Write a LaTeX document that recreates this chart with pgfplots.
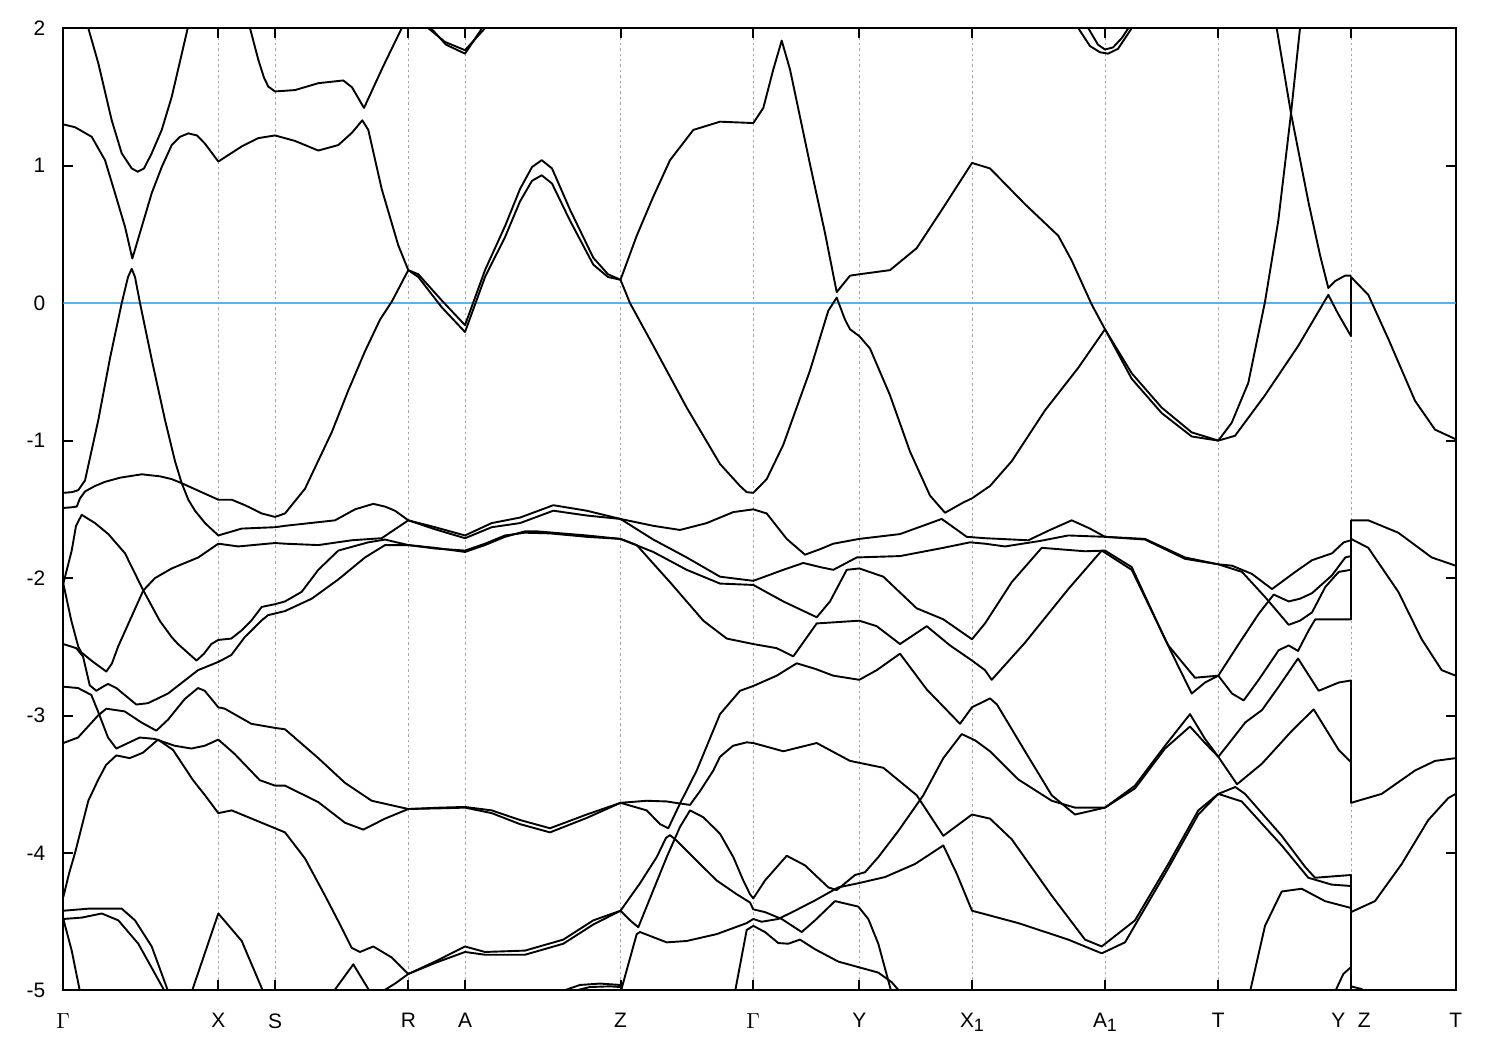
\documentclass[border=0pt]{standalone}
\usepackage{fontspec}
\setmainfont{Liberation Sans}
\usepackage{pgfplots}
\pgfplotsset{compat=1.18}
\definecolor{zeroblue}{RGB}{86,180,233}
\begin{document}
\begin{tikzpicture}
\begin{axis}[
  width=696bp, height=481bp, scale only axis,
  xmin=63.3, xmax=1455.7, ymin=-5, ymax=2,
  xtick={63.3,218.3,275,408.3,465,620.5,753.3,859.3,972,1105,1218.3,1351,1455.7},
  xticklabels={$\Gamma$,X,S,R,A,Z,$\Gamma$,Y,X\raisebox{-0.35ex}{\fontsize{9}{10}\selectfont 1},A\raisebox{-0.35ex}{\fontsize{9}{10}\selectfont 1},T,Y\hspace{6.3bp}Z,T},
  ytick={-5,-4,-3,-2,-1,0,1,2},
  yticklabels={-5,-4,-3,-2,-1,0,1,2},
  tick align=inside, major tick length=5bp,
  every tick/.style={black, line width=1bp},
  axis line style={line width=1bp},
  xmajorgrids,
  major grid style={gray!70, line width=0.5bp, dash pattern=on 1.2bp off 1.5bp},
  ticklabel style={font=\fontsize{10.5}{12}\selectfont},
  xticklabel style={yshift=-8bp},
  yticklabel style={xshift=-5.5bp},
  no markers,
  cycle list={{black,solid}},
  every axis plot post/.append style={line width=0.95bp, line join=round},
]
% Fermi level
\addplot[color=zeroblue] coordinates {(63.3,0) (1455.7,0)};

% bands above the Fermi level
\addplot coordinates {(88.3,2.0)(98.3,1.745)(111.7,1.33)(121.7,1.09)(131.7,0.98)(137.7,0.956)(144,0.98)(151.7,1.09)(161.7,1.26)(171.7,1.50)(187.7,2.0)};
\addplot coordinates {(63.3,1.30)(75,1.28)(91.7,1.21)(105,1.04)(115,0.80)(125,0.555)(132.3,0.325)(135,0.39)(151.7,0.80)(161.7,0.99)(171.7,1.15)(180,1.21)(188.3,1.235)(197,1.22)(205,1.16)(218.3,1.03)(241.7,1.14)(258,1.20)(275,1.22)(295,1.18)(318.3,1.11)(338.3,1.15)(352,1.24)(362.3,1.33)(368.3,1.26)(381.7,0.83)(398.3,0.42)(408.3,0.24)(418.3,0.21)(441.7,0.02)(465,-0.16)(485,0.24)(505,0.56)(520,0.83)(532,0.99)(541.7,1.04)(552,0.98)(570,0.68)(593.3,0.33)(608,0.21)(620.5,0.17)(636.7,0.49)(653,0.77)(670,1.04)(693.3,1.26)(720,1.32)(753.3,1.31)(763.3,1.42)(773.3,1.70)(781.7,1.91)(790,1.70)(810,1.01)(825,0.51)(836.7,0.08)(850,0.20)(859.3,0.21)(890,0.24)(916.7,0.40)(943.3,0.695)(972,1.02)(990,0.98)(1025,0.72)(1058.3,0.49)(1071.7,0.31)(1091.7,-0.01)(1105,-0.19)(1131.7,-0.51)(1161.7,-0.76)(1191.7,-0.94)(1218.3,-1.00)(1235,-0.965)(1265,-0.67)(1298.3,-0.31)(1328.3,0.06)(1338.3,-0.08)(1351,-0.24)(1351,0.19)(1368.3,0.06)(1388.3,-0.26)(1415,-0.71)(1435,-0.92)(1455.7,-0.99)};
\addplot coordinates {(408.3,0.24)(418.3,0.19)(441.7,-0.03)(465,-0.21)(485,0.19)(505,0.48)(520,0.74)(532,0.89)(541.7,0.93)(552,0.87)(570,0.60)(593.3,0.28)(608,0.19)(620.5,0.17)};
\addplot coordinates {(250,2.0)(258.3,1.77)(264,1.64)(268.3,1.575)(275,1.54)(295,1.55)(318.3,1.60)(343.3,1.62)(352,1.57)(364,1.42)(383,1.72)(401.7,2.0)};
\addplot coordinates {(428.3,2.0)(445,1.90)(465,1.84)(485,2.0)};
\addplot coordinates {(431,2.0)(446,1.88)(465,1.815)(482,2.0)};
\addplot coordinates {(1078.3,2.0)(1090,1.87)(1100,1.825)(1108,1.815)(1118,1.85)(1131.7,2.0)};
\addplot coordinates {(1088.3,2.0)(1098,1.88)(1105,1.845)(1113,1.86)(1122,1.93)(1128.3,2.0)};
\addplot coordinates {(620.5,0.17)(630,0.0)(653.3,-0.31)(686.7,-0.76)(720,-1.17)(740,-1.33)(746.7,-1.375)(753.3,-1.38)(766.7,-1.28)(783.3,-1.03)(810,-0.49)(828.3,-0.055)(836.7,0.04)(845,-0.12)(850,-0.19)(859.3,-0.24)(870,-0.33)(890,-0.67)(910,-1.08)(930,-1.40)(945,-1.525)(963.3,-1.45)(972,-1.42)(990,-1.33)(1011.7,-1.15)(1045,-0.78)(1078.3,-0.47)(1105,-0.19)};
\addplot coordinates {(1105,-0.19)(1131.7,-0.55)(1161.7,-0.80)(1191.7,-0.97)(1218.3,-1.00)(1231.7,-0.87)(1248.3,-0.58)(1265,0.01)(1278.3,0.60)(1291,1.38)(1300,2.0)};
\addplot coordinates {(1276.7,2.0)(1291,1.38)(1308.3,0.74)(1320,0.35)(1328.3,0.11)(1335,0.16)(1345,0.20)(1351,0.20)};

% valence bands, upper group
\addplot coordinates {(63.3,-1.38)(72,-1.375)(78.3,-1.36)(85,-1.29)(98.3,-0.85)(110,-0.40)(121.7,0.0)(128,0.19)(131.7,0.25)(135,0.19)(140,0.0)(152,-0.42)(165,-0.85)(175,-1.15)(181.7,-1.31)(188.3,-1.43)(195,-1.51)(205,-1.60)(218.3,-1.69)(241.7,-1.64)(275,-1.63)(285,-1.62)(335,-1.58)(355,-1.50)(373.3,-1.46)(385,-1.48)(395,-1.51)(408.3,-1.58)(435,-1.63)(465,-1.69)(491.7,-1.60)(520,-1.56)(553.3,-1.47)(586.7,-1.51)(620.5,-1.57)(653.3,-1.62)(680,-1.65)(706.7,-1.60)(733.3,-1.52)(753.3,-1.50)(766.7,-1.53)(786.7,-1.715)(805,-1.83)(820,-1.79)(833.3,-1.75)(859.3,-1.715)(900,-1.68)(941.7,-1.57)(953.3,-1.63)(966.7,-1.70)(985,-1.71)(1028.3,-1.725)(1050,-1.65)(1071.7,-1.58)(1090,-1.64)(1105,-1.70)(1145,-1.715)(1185,-1.85)(1218.3,-1.90)(1232,-1.91)(1252,-1.97)(1272,-2.08)(1295.3,-1.955)(1312,-1.87)(1332,-1.82)(1343.7,-1.74)(1351,-1.725)(1351,-1.58)(1368.3,-1.58)(1398.3,-1.67)(1431.7,-1.85)(1455.7,-1.91)};
\addplot coordinates {(408.3,-1.58)(435,-1.645)(465,-1.71)(491.7,-1.63)(520,-1.60)(553.3,-1.51)(586.7,-1.545)(620.5,-1.57)(653.3,-1.72)(686.7,-1.85)(720,-1.99)(753.3,-2.02)(783.3,-1.94)(803.3,-1.89)(820,-1.92)(833.3,-1.94)(856.7,-1.85)(900,-1.84)(943.3,-1.78)(970,-1.74)(985,-1.75)(1005,-1.77)(1040,-1.73)(1068.3,-1.69)(1105,-1.70)(1145,-1.72)(1185,-1.86)(1218.3,-1.90)(1242,-1.955)(1265.3,-2.14)(1288.7,-2.34)(1300,-2.31)(1312,-2.25)(1325.3,-2.065)(1338.7,-1.955)(1351,-1.94)(1351,-1.715)(1368.3,-1.78)(1398.3,-2.10)(1421.7,-2.445)(1441.7,-2.67)(1455.7,-2.71)};
\addplot coordinates {(63.3,-1.49)(72,-1.485)(76.7,-1.48)(80,-1.42)(85,-1.37)(95,-1.33)(105,-1.30)(120,-1.27)(141.7,-1.245)(160,-1.26)(171.7,-1.28)(181.7,-1.31)(200,-1.37)(218.3,-1.43)(231.7,-1.43)(245,-1.47)(261.7,-1.53)(275,-1.555)(285,-1.53)(305,-1.35)(331.7,-0.94)(348,-0.64)(365,-0.35)(380,-0.12)(391.7,0.01)(408.3,0.24)};
\addplot coordinates {(63.3,-2.04)(71.7,-1.80)(76,-1.62)(81.7,-1.54)(95,-1.60)(108.3,-1.68)(125,-1.82)(143.3,-2.09)(159.7,-2.31)(171.7,-2.43)(178,-2.48)(196.5,-2.60)(204,-2.55)(211.3,-2.48)(218.3,-2.45)(231.3,-2.44)(241.7,-2.38)(251.3,-2.31)(261.7,-2.21)(275,-2.19)(285,-2.17)(301.7,-2.10)(318.3,-1.94)(338.3,-1.80)(368.3,-1.74)(385,-1.72)(408.3,-1.76)(435,-1.78)(465,-1.81)(485,-1.76)(505,-1.70)(525,-1.66)(536.7,-1.66)(586.7,-1.69)(620.5,-1.715)(653.3,-1.81)(686.7,-1.94)(720,-2.04)(753.3,-2.05)(783.3,-2.17)(816.7,-2.285)(830,-2.17)(846.7,-1.94)(859.3,-1.93)(883.3,-1.99)(916.7,-2.22)(943.3,-2.30)(972,-2.445)(985,-2.33)(1011.7,-2.03)(1041.7,-1.78)(1085,-1.805)(1105,-1.80)(1131.7,-1.92)(1165,-2.445)(1191.7,-2.84)(1205,-2.76)(1218.3,-2.71)(1238.7,-2.48)(1258.7,-2.26)(1273.7,-2.12)(1288.7,-2.17)(1300,-2.15)(1312,-2.11)(1332,-1.98)(1345.3,-1.85)(1351,-1.84)(1351,-1.58)};
\addplot coordinates {(63.3,-2.04)(71.3,-2.31)(78.3,-2.50)(81.3,-2.54)(91.3,-2.60)(106.3,-2.68)(112,-2.62)(118,-2.50)(129.7,-2.31)(143.3,-2.09)(155,-2.0)(171.7,-1.93)(198.3,-1.85)(218.3,-1.75)(238.3,-1.77)(275,-1.745)(285,-1.75)(318.3,-1.76)(351.7,-1.725)(381.7,-1.71)(395,-1.645)(408.3,-1.58)};
\addplot coordinates {(63.3,-2.48)(76.3,-2.51)(83,-2.57)(89.7,-2.78)(96.3,-2.82)(103,-2.79)(108,-2.77)(116.3,-2.80)(136.3,-2.92)(148,-2.91)(168,-2.84)(198,-2.67)(218.3,-2.61)(231.3,-2.56)(244.7,-2.43)(261.3,-2.31)(268,-2.27)(285,-2.24)(311.7,-2.15)(338.3,-2.01)(365,-1.85)(385,-1.76)(408.3,-1.76)(435,-1.785)(465,-1.80)(485,-1.75)(505,-1.69)(525,-1.67)(550,-1.675)(586.7,-1.70)(620.5,-1.715)(636.7,-1.76)(670,-2.03)(703.3,-2.31)(726.7,-2.44)(753.3,-2.48)(776.7,-2.51)(793.3,-2.57)(805,-2.45)(816.7,-2.33)(859.3,-2.31)(876.7,-2.35)(900,-2.48)(926.7,-2.35)(950,-2.49)(972,-2.60)(985,-2.67)(991.7,-2.74)(1025,-2.47)(1068.3,-2.08)(1101.7,-1.80)(1131.7,-1.94)(1168.3,-2.49)(1195,-2.725)(1218.3,-2.71)(1232,-2.84)(1243.7,-2.89)(1258.7,-2.74)(1278.7,-2.525)(1288.7,-2.49)(1298,-2.53)(1308.7,-2.38)(1315.3,-2.30)(1351,-2.30)(1351,-1.715)};

% valence bands, lower group
\addplot coordinates {(63.3,-2.79)(78,-2.80)(91.3,-2.85)(98,-2.97)(108,-3.16)(116.3,-3.24)(128,-3.20)(139.7,-3.16)(154.7,-3.17)(174.7,-3.22)(191.3,-3.24)(204.7,-3.22)(218.3,-3.175)(234.7,-3.28)(259.7,-3.47)(275,-3.51)(285,-3.51)(318.3,-3.63)(345,-3.78)(363.3,-3.83)(385,-3.75)(408.3,-3.68)(440,-3.67)(465,-3.665)(491.7,-3.69)(520,-3.76)(550,-3.82)(586.7,-3.72)(620.5,-3.635)(646.7,-3.62)(666.7,-3.625)(680,-3.64)(690,-3.65)(700,-3.55)(713.3,-3.40)(720,-3.30)(733,-3.22)(746.7,-3.195)(753.3,-3.20)(783.3,-3.26)(816.7,-3.20)(850,-3.33)(883.3,-3.38)(916.7,-3.58)(943.3,-3.875)(972,-3.72)(990,-3.75)(1011.7,-3.90)(1051.7,-4.31)(1085,-4.63)(1101.7,-4.68)(1135,-4.49)(1168.3,-4.08)(1198.3,-3.69)(1218.3,-3.57)(1235.3,-3.52)(1245,-3.57)(1281.7,-3.875)(1305,-4.10)(1315,-4.18)(1351,-4.16)(1351,-4.43)(1375,-4.35)(1401.7,-4.08)(1428.3,-3.76)(1448.3,-3.60)(1455.7,-3.57)};
\addplot coordinates {(63.3,-3.20)(78,-3.16)(98,-3.00)(106.3,-2.95)(124.7,-2.97)(141.3,-3.05)(156.3,-3.11)(168,-3.03)(184.7,-2.88)(198,-2.80)(204.7,-2.82)(218.3,-2.94)(224.7,-2.95)(251.3,-3.06)(275,-3.09)(285,-3.10)(318.3,-3.31)(345,-3.49)(371.7,-3.62)(408.3,-3.68)(440,-3.675)(465,-3.67)(491.7,-3.71)(520,-3.79)(550,-3.85)(586.7,-3.745)(620.5,-3.635)(646.7,-3.69)(660,-3.79)(668.3,-3.82)(680,-3.64)(696.7,-3.40)(720,-2.99)(740,-2.82)(753.3,-2.785)(776.7,-2.71)(796.7,-2.62)(815,-2.66)(833.3,-2.71)(859.3,-2.74)(876.7,-2.67)(900,-2.55)(926.7,-2.81)(960,-3.06)(972,-2.94)(990,-2.875)(997,-2.92)(1025,-3.26)(1051.7,-3.58)(1075,-3.72)(1105,-3.67)(1135,-3.51)(1165,-3.22)(1190,-2.99)(1205,-3.17)(1218.3,-3.30)(1228.7,-3.205)(1245.3,-3.05)(1262,-2.96)(1278.7,-2.79)(1298,-2.585)(1318.7,-2.82)(1338.7,-2.76)(1351,-2.745)(1351,-3.635)(1381.7,-3.57)(1415,-3.40)(1435,-3.33)(1455.7,-3.31)};
\addplot coordinates {(63.3,-4.32)(69,-4.15)(75,-4.0)(82,-3.80)(88.3,-3.62)(98,-3.47)(106,-3.36)(116.3,-3.29)(129.7,-3.31)(143,-3.27)(158,-3.175)(173,-3.25)(193,-3.47)(205,-3.58)(218.3,-3.71)(231.7,-3.69)(255,-3.76)(275,-3.82)(285,-3.85)(305,-4.04)(325,-4.31)(340,-4.52)(351.7,-4.69)(360,-4.72)(373.3,-4.68)(391.7,-4.76)(408.3,-4.88)(435,-4.79)(465,-4.68)(485,-4.72)(525,-4.71)(563.3,-4.63)(593.3,-4.49)(620.5,-4.42)(640,-4.22)(656.7,-4.03)(666,-3.89)(670,-3.87)(676.7,-3.91)(700,-4.08)(716.7,-4.20)(736.7,-4.30)(750,-4.36)(753.3,-4.41)(765,-4.43)(781.7,-4.48)(801.7,-4.575)(815,-4.49)(835,-4.35)(858.3,-4.39)(868.3,-4.48)(878.3,-4.66)(891.7,-5.02)};
\addplot coordinates {(381.7,-5.01)(395,-4.95)(408.3,-4.88)(435,-4.80)(465,-4.72)(485,-4.74)(525,-4.74)(563.3,-4.66)(593.3,-4.52)(620.5,-4.42)(630,-4.49)(638.3,-4.54)(653.3,-4.27)(666.7,-4.03)(680,-3.81)(690,-3.69)(703.3,-3.74)(720,-3.86)(733.3,-4.03)(743.3,-4.20)(750,-4.30)(753.3,-4.33)(765,-4.20)(786.7,-4.02)(805,-4.09)(828.3,-4.25)(836.7,-4.27)(855,-4.16)(865,-4.14)(878.3,-4.03)(898.3,-3.84)(923.3,-3.58)(943.3,-3.31)(961.7,-3.135)(975,-3.18)(990,-3.26)(1018.3,-3.465)(1051.7,-3.62)(1075,-3.67)(1105,-3.67)(1135,-3.53)(1165,-3.24)(1190,-3.08)(1205,-3.20)(1218.3,-3.30)(1237,-3.50)(1262,-3.35)(1292,-3.11)(1313.7,-2.955)(1338.7,-3.25)(1351,-3.34)(1351,-3.635)};
\addplot coordinates {(620.7,-5.01)(628.3,-4.81)(636.7,-4.59)(640,-4.575)(666.7,-4.65)(686.7,-4.64)(716.7,-4.59)(746.7,-4.51)(753.3,-4.48)(761.7,-4.50)(778.3,-4.48)(795,-4.42)(815,-4.345)(838.3,-4.25)(858.3,-4.22)(885,-4.175)(915,-4.08)(943.3,-3.945)(956.7,-4.15)(972,-4.42)(985,-4.445)(1018.3,-4.51)(1068.3,-4.63)(1101.7,-4.73)(1125,-4.65)(1168.3,-4.11)(1198.3,-3.72)(1218.3,-3.57)(1241.7,-3.625)(1281.7,-3.945)(1308.3,-4.18)(1331.7,-4.23)(1351,-4.24)(1351,-4.43)};
\addplot coordinates {(735,-5.01)(746.7,-4.56)(753.3,-4.53)(765,-4.575)(778.3,-4.655)(788.3,-4.66)(800,-4.63)(815,-4.70)(838.3,-4.79)(858.3,-4.83)(878.3,-4.87)(891.7,-4.94)(900,-5.01)};

% band pieces near the bottom edge
\addplot coordinates {(63.3,-4.42)(88.3,-4.405)(121.7,-4.405)(135,-4.49)(151.7,-4.68)(168.3,-5.01)};
\addplot coordinates {(63.3,-4.48)(81.7,-4.47)(101.7,-4.44)(118.3,-4.49)(138.3,-4.66)(165,-5.01)};
\addplot coordinates {(63.3,-4.48)(71.7,-4.71)(80,-5.01)};
\addplot coordinates {(191.7,-5.01)(218.3,-4.44)(241.7,-4.64)(263.3,-5.01)};
\addplot coordinates {(333.3,-5.01)(353.3,-4.81)(370,-5.01)};
\addplot coordinates {(560,-5.01)(580,-4.96)(600,-4.95)(620.5,-4.96)(622,-5.01)};
\addplot coordinates {(570,-5.01)(590,-4.975)(610,-4.97)(620.5,-4.975)};
\addplot coordinates {(1250,-5.01)(1265,-4.53)(1281.7,-4.28)(1301.7,-4.26)(1325,-4.35)(1351,-4.40)(1351,-4.97)(1361.7,-4.99)(1364,-5.01)};
\addplot coordinates {(1335,-5.01)(1343.3,-4.88)(1351,-4.83)(1351,-5.01)};

\coordinate (sw) at (rel axis cs:0,0);
\coordinate (ne) at (rel axis cs:1,1);
\end{axis}
\pgfresetboundingbox
\path[use as bounding box] ([xshift=-31.65bp,yshift=-30bp]sw) rectangle ([xshift=22.15bp,yshift=14.1bp]ne);
\end{tikzpicture}
\end{document}
